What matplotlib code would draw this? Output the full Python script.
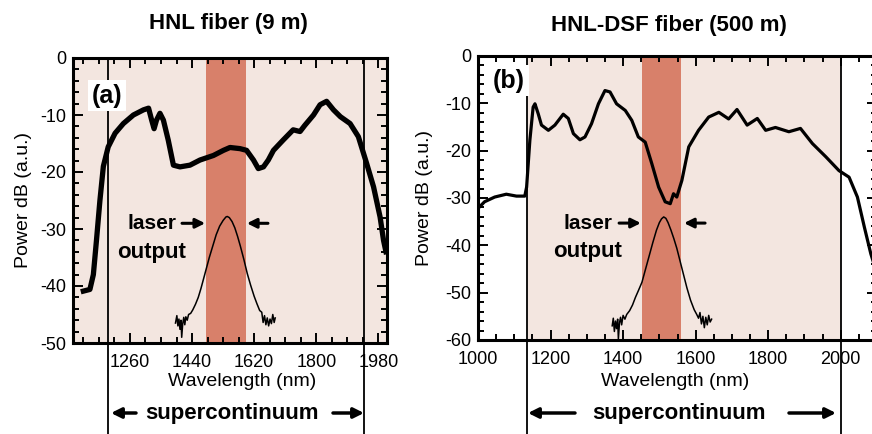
import numpy as np
import matplotlib
matplotlib.use('Agg')
import matplotlib.pyplot as plt
from matplotlib.ticker import MultipleLocator, FixedLocator
import matplotlib.transforms as mtrans

plt.rcParams['font.family'] = ['Liberation Sans', 'DejaVu Sans']
plt.rcParams['axes.unicode_minus'] = False

# ---- data ----
# (a) HNL fiber, 9 m : supercontinuum spectrum
sc_a_x = [1125, 1144, 1154, 1163, 1173, 1183, 1197, 1217, 1241, 1270, 1299, 1314,
          1323, 1330, 1337, 1347, 1357, 1371, 1386, 1405, 1434, 1463, 1502, 1531,
          1550, 1579, 1598, 1618, 1632, 1647, 1661, 1676, 1704, 1733, 1753, 1767,
          1792, 1811, 1830, 1850, 1870, 1898, 1922, 1946, 1966, 1985, 1995, 2002]
sc_a_y = [-40.9, -40.6, -38.0, -32.0, -25.0, -19.0, -15.6, -13.2, -11.5, -10.0, -9.1, -8.8,
          -10.9, -12.4, -10.9, -9.7, -10.9, -14.4, -18.8, -19.1, -18.8, -17.9, -17.1, -16.2,
          -15.7, -15.9, -16.2, -17.9, -19.4, -19.1, -17.9, -16.2, -14.4, -12.6, -12.9, -11.8,
          -10.0, -8.2, -7.6, -9.1, -10.3, -11.5, -13.8, -18.5, -22.6, -27.9, -32.0, -34.0]

# (a) laser output
las_a_x = [1392, 1396, 1399, 1402, 1405, 1408, 1410, 1413, 1416, 1419,
           1422, 1426, 1430, 1436, 1442, 1450, 1458, 1466, 1474, 1482,
           1490, 1500, 1510, 1520, 1530, 1538, 1542, 1548, 1556, 1564,
           1572, 1580, 1590, 1600, 1610, 1620, 1628, 1636, 1642, 1646,
           1650, 1654, 1658, 1662, 1666, 1670, 1674, 1678, 1681]
las_a_y = [-46.5, -45.2, -47.0, -45.8, -47.6, -46.0, -49.0, -46.6, -45.5, -46.8,
           -45.4, -46.0, -45.0, -44.8, -44.2, -43.2, -42.0, -40.4, -38.6, -36.8,
           -35.0, -33.0, -31.0, -29.5, -28.5, -27.9, -27.8, -28.0, -28.7, -29.8,
           -31.3, -33.0, -35.3, -37.8, -39.9, -41.8, -43.1, -44.3, -44.6, -46.4,
           -45.2, -46.8, -45.6, -47.0, -45.8, -46.6, -45.0, -46.4, -45.6]

# (b) HNL-DSF fiber, 500 m : supercontinuum spectrum
sc_b_x = [995, 1018, 1046, 1078, 1106, 1129, 1134, 1143, 1152, 1157, 1166, 1175,
          1194, 1212, 1235, 1249, 1263, 1281, 1295, 1313, 1332, 1350, 1364, 1382,
          1406, 1424, 1442, 1461, 1479, 1498, 1516, 1530, 1539, 1548, 1562, 1581,
          1608, 1636, 1664, 1691, 1714, 1742, 1770, 1793, 1820, 1857, 1889, 1922,
          1959, 1995, 2023, 2046, 2065, 2083, 2100]
sc_b_y = [-32.6, -30.8, -29.8, -29.2, -29.6, -29.6, -27.7, -17.8, -10.8, -10.1, -12.2, -14.6,
          -15.7, -14.6, -12.3, -13.2, -16.4, -17.7, -17.1, -14.3, -10.1, -7.3, -7.6, -10.1,
          -11.5, -13.6, -17.1, -18.2, -22.7, -27.7, -30.8, -31.2, -29.1, -29.8, -26.3, -19.2,
          -15.7, -12.9, -11.9, -13.3, -11.3, -14.6, -13.2, -15.7, -15.1, -16.0, -15.3, -18.5,
          -21.3, -24.2, -25.6, -29.8, -36.1, -41.8, -46.0]

# (b) laser output
las_b_x = [1370, 1373, 1376, 1379, 1382, 1385, 1387, 1390, 1393, 1396,
           1400, 1405, 1410, 1418, 1426, 1434, 1442, 1452, 1462, 1472,
           1482, 1492, 1500, 1506, 1512, 1518, 1524, 1532, 1540, 1548,
           1556, 1566, 1576, 1586, 1596, 1603, 1608, 1612, 1616, 1620,
           1624, 1628, 1632, 1636, 1640, 1644]
las_b_y = [-57.0, -55.4, -58.2, -56.0, -57.6, -55.6, -59.8, -56.4, -55.2, -56.8,
           -54.8, -55.6, -54.6, -53.8, -52.6, -51.0, -49.6, -47.8, -45.0, -42.2,
           -39.4, -36.8, -35.2, -34.4, -34.0, -34.3, -35.2, -36.8, -38.6, -40.6,
           -43.0, -46.0, -49.0, -51.6, -53.6, -54.6, -55.4, -54.2, -56.6, -55.0,
           -57.4, -55.2, -56.8, -54.8, -56.2, -55.6]

band_a = (1479, 1595)
band_b = (1452, 1560)
sc_edges_a = (1197, 1937)
sc_edges_b = (1134, 2000)
ticks_a = [1260, 1440, 1620, 1800, 1980]
ticks_b = [1000, 1200, 1400, 1600, 1800, 2000]

PINK = '#f3e6e0'
BAND = '#d8806a'
W, H = 872, 434

fig = plt.figure(figsize=(W / 100, H / 100), dpi=100)
ax1 = fig.add_axes([73 / W, 1 - 343 / H, 314 / W, 285 / H])
ax2 = fig.add_axes([478 / W, 1 - 340 / H, 399 / W, 284 / H])


def style_axes(ax):
    for sp in ax.spines.values():
        sp.set_linewidth(2.2)
    ax.tick_params(which='both', direction='in', top=True, right=True, width=1.4,
                   labelsize=13, pad=5)
    ax.tick_params(axis='x', which='both', pad=8)
    ax.tick_params(which='major', length=7)
    ax.tick_params(which='minor', length=4)


def edge_line(ax, x, bottom):
    # vertical supercontinuum limit, running below the axes
    tr = mtrans.blended_transform_factory(ax.transData, ax.transAxes)
    ax.plot([x, x], [1, bottom], transform=tr, color='k', lw=1.3,
            clip_on=False, zorder=4)


def laser_note(ax, xt, yt, arr_r, arr_l):
    ax.text(xt, yt, 'laser', fontsize=15, fontweight='bold', ha='center', va='center', zorder=6)
    ax.text(xt, yt - (arr_r[2]), 'output', fontsize=16, fontweight='bold',
            ha='center', va='center', zorder=6)
    ap = dict(arrowstyle='-|>', lw=2.2, color='k', mutation_scale=14, shrinkA=0, shrinkB=0)
    ax.annotate('', xy=(arr_r[1], yt), xytext=(arr_r[0], yt), arrowprops=ap, zorder=6)
    ax.annotate('', xy=(arr_l[1], yt), xytext=(arr_l[0], yt), arrowprops=ap, zorder=6)


def sc_note(x0, x1, xt, xr0, xr1):
    y = 21
    ap = dict(arrowstyle='-|>', lw=2.5, color='k', mutation_scale=15, shrinkA=0, shrinkB=0)
    fig.text(xt / W, y / H, 'supercontinuum', fontsize=16, fontweight='bold',
             ha='center', va='center')
    fig.add_artist(matplotlib.patches.FancyArrowPatch((x0 / W, y / H), (x1 / W, y / H),
                   transform=fig.transFigure, **ap))
    fig.add_artist(matplotlib.patches.FancyArrowPatch((xr0 / W, y / H), (xr1 / W, y / H),
                   transform=fig.transFigure, **ap))


# ---- panel (a) ----
ax1.set_facecolor(PINK)
ax1.axvspan(*band_a, color=BAND, lw=0, zorder=1)
ax1.plot(sc_a_x, sc_a_y, color='k', lw=3.8, solid_joinstyle='round', zorder=3)
ax1.plot(las_a_x, las_a_y, color='k', lw=1.1, zorder=3)
ax1.set_xlim(1095, 2005)
ax1.set_ylim(-50, 0)
ax1.xaxis.set_major_locator(FixedLocator(ticks_a))
ax1.xaxis.set_minor_locator(MultipleLocator(45))
ax1.yaxis.set_major_locator(MultipleLocator(10))
ax1.yaxis.set_minor_locator(MultipleLocator(2))
style_axes(ax1)
for x in sc_edges_a:
    edge_line(ax1, x, -(H - 343) / 285)
ax1.text(1193, -6.6, '(a)', fontsize=18, fontweight='bold', ha='center', va='center',
         zorder=7, bbox=dict(boxstyle='square,pad=0.15', fc='white', ec='none'))
laser_note(ax1, 1324, -29, (1411, 1478, 5.1), (1660, 1599))
ax1.set_ylabel('Power dB (a.u.)', fontsize=14)
ax1.yaxis.set_label_coords(-0.131, 0.5)
ax1.set_xlabel('Wavelength (nm)', fontsize=14)
ax1.xaxis.set_label_coords(0.538, -0.105)

# ---- panel (b) ----
ax2.set_facecolor('white')
ax2.axvspan(*sc_edges_b, color=PINK, lw=0, zorder=0)
ax2.axvspan(*band_b, color=BAND, lw=0, zorder=1)
ax2.plot(sc_b_x, sc_b_y, color='k', lw=2.3, solid_joinstyle='round', zorder=3)
ax2.plot(las_b_x, las_b_y, color='k', lw=1.1, zorder=3)
ax2.set_xlim(1000, 2100)
ax2.set_ylim(-60, 0)
ax2.xaxis.set_major_locator(FixedLocator(ticks_b))
ax2.xaxis.set_minor_locator(MultipleLocator(50))
ax2.yaxis.set_major_locator(MultipleLocator(10))
ax2.yaxis.set_minor_locator(MultipleLocator(2))
style_axes(ax2)
for x in sc_edges_b:
    edge_line(ax2, x, -(H - 340) / 284)
ax2.text(1085, -5.2, '(b)', fontsize=18, fontweight='bold', ha='center', va='center',
         zorder=7, bbox=dict(boxstyle='square,pad=0.15', fc='white', ec='none'))
laser_note(ax2, 1302, -35.3, (1389, 1449, 6.1), (1626, 1568))
ax2.set_ylabel('Power dB (a.u.)', fontsize=14)
ax2.yaxis.set_label_coords(-0.113, 0.5)
ax2.set_xlabel('Wavelength (nm)', fontsize=14)
ax2.xaxis.set_label_coords(0.494, -0.115)

# ---- titles and supercontinuum markers ----
fig.text(228 / W, 1 - 23 / H, 'HNL fiber (9 m)', fontsize=16, fontweight='bold',
         ha='center', va='center')
fig.text(669 / W, 1 - 26 / H, 'HNL-DSF fiber (500 m)', fontsize=16, fontweight='bold',
         ha='center', va='center')
sc_note(136, 111, 232, 333, 364)
sc_note(575, 528, 679, 789, 836)

fig.savefig('out.png', dpi=100)
